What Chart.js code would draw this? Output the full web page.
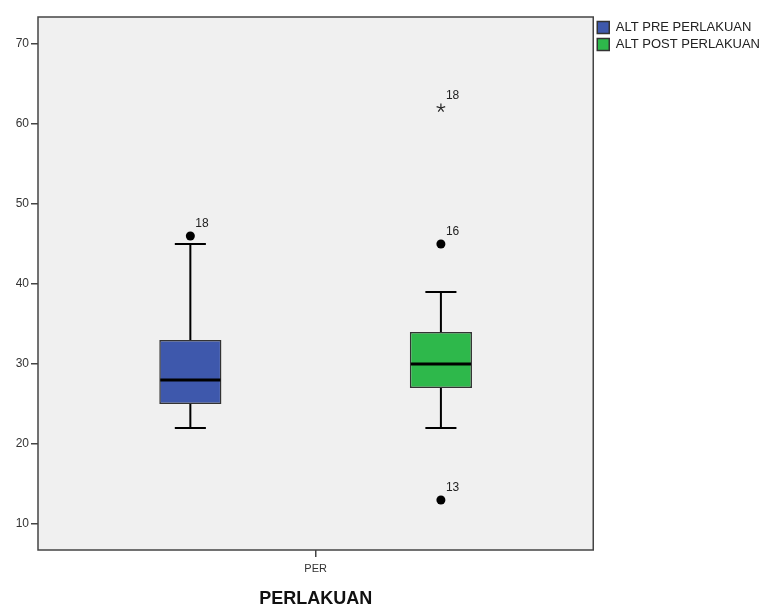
<!DOCTYPE html>
<html>
<head>
<meta charset="UTF-8">
<script src="https://cdn.jsdelivr.net/npm/chart.js@4/dist/chart.umd.min.js"></script>
<style>
  html, body { margin: 0; padding: 0; background: #fff; }
  #wrap { width: 763px; height: 607px; }
</style>
</head>
<body>
<div id="wrap"><canvas id="box"></canvas></div>
<script>
// data
var categories = ['PER'];
var seriesNames = ['ALT PRE PERLAKUAN', 'ALT POST PERLAKUAN'];
var boxMin    = [22, 22];
var boxQ1     = [25, 27];
var boxMedian = [28, 30];
var boxQ3     = [33, 34];
var boxMax    = [45, 39];
// outliers: [value, case label]
var outliersPre  = [[46, '18']];
var outliersPost = [[45, '16'], [13, '13']];
var extremesPre  = [];
var extremesPost = [[62, '18']];
var yTicks = [10, 20, 30, 40, 50, 60, 70];

var colors = ['#3e58ac', '#2eb84b'];
var fontFam = '"Liberation Sans", Arial, sans-serif';

var boxPlugin = {
  id: 'boxParts',
  beforeDraw: function(chart) {
    var a = chart.chartArea, ctx = chart.ctx;
    ctx.save();
    ctx.fillStyle = '#f0f0f0';
    ctx.fillRect(a.left, a.top, a.right - a.left, a.bottom - a.top);
    ctx.restore();
  },
  afterDatasetsDraw: function(chart) {
    var ctx = chart.ctx, y = chart.scales.y;
    var outs = [outliersPre, outliersPost];
    var exts = [extremesPre, extremesPost];
    ctx.save();
    chart.data.datasets.forEach(function(ds, i) {
      var bar = chart.getDatasetMeta(i).data[0];
      var cx = bar.x, half = bar.width / 2, cap = bar.width / 4;
      var yMin = y.getPixelForValue(boxMin[i]), yMax = y.getPixelForValue(boxMax[i]);
      var yQ1 = y.getPixelForValue(boxQ1[i]), yQ3 = y.getPixelForValue(boxQ3[i]);
      var yMed = y.getPixelForValue(boxMedian[i]);
      ctx.strokeStyle = '#000';
      ctx.lineWidth = 2;
      ctx.beginPath();
      ctx.moveTo(cx, yQ3); ctx.lineTo(cx, yMax);
      ctx.moveTo(cx - cap, yMax); ctx.lineTo(cx + cap, yMax);
      ctx.moveTo(cx, yQ1); ctx.lineTo(cx, yMin);
      ctx.moveTo(cx - cap, yMin); ctx.lineTo(cx + cap, yMin);
      ctx.stroke();
      ctx.lineWidth = 3;
      ctx.beginPath();
      ctx.moveTo(cx - half + 1, yMed); ctx.lineTo(cx + half - 1, yMed);
      ctx.stroke();

      ctx.font = '12px ' + fontFam;
      ctx.textAlign = 'left';
      ctx.textBaseline = 'alphabetic';
      outs[i].forEach(function(o) {
        var py = y.getPixelForValue(o[0]);
        ctx.fillStyle = '#000';
        ctx.beginPath();
        ctx.arc(cx, py, 4.5, 0, Math.PI * 2);
        ctx.fill();
        ctx.fillStyle = '#222';
        ctx.fillText(o[1], cx + 5, py - 9);
      });
      exts[i].forEach(function(o) {
        var py = y.getPixelForValue(o[0]);
        ctx.strokeStyle = '#222';
        ctx.lineWidth = 1.2;
        ctx.beginPath();
        for (var k = 0; k < 5; k++) {
          var ang = -Math.PI / 2 + k * 2 * Math.PI / 5;
          ctx.moveTo(cx, py);
          ctx.lineTo(cx + 4.5 * Math.cos(ang), py + 4.5 * Math.sin(ang));
        }
        ctx.stroke();
        ctx.fillStyle = '#222';
        ctx.fillText(o[1], cx + 5, py - 9);
      });
    });
    // plot frame
    var a = chart.chartArea;
    ctx.strokeStyle = '#444';
    ctx.lineWidth = 1.5;
    ctx.strokeRect(a.left, a.top, a.right - a.left, a.bottom - a.top);
    ctx.restore();
  }
};

new Chart(document.getElementById('box'), {
  type: 'bar',
  data: {
    labels: categories,
    datasets: seriesNames.map(function(name, i) {
      return {
        label: name,
        data: [[boxQ1[i], boxQ3[i]]],
        backgroundColor: colors[i],
        borderColor: '#333',
        borderWidth: 1.5,
        borderSkipped: false,
        categoryPercentage: 0.9025,
        barPercentage: 0.248
      };
    })
  },
  options: {
    responsive: true,
    maintainAspectRatio: false,
    animation: false,
    layout: { padding: { top: 17, right: -7, left: 0, bottom: 0 } },
    plugins: {
      tooltip: { enabled: false },
      legend: {
        position: 'right',
        align: 'start',
        labels: {
          boxWidth: 12, boxHeight: 12, padding: 4,
          color: '#222',
          font: { family: fontFam, size: 13 }
        }
      }
    },
    scales: {
      x: {
        grid: { display: true, offset: false, drawOnChartArea: false, drawTicks: true, tickLength: 7, color: '#444', lineWidth: 1.5 },
        border: { display: false },
        ticks: { color: '#333', font: { family: fontFam, size: 11 }, padding: 5 },
        title: {
          display: true, text: 'PERLAKUAN', color: '#111',
          font: { family: fontFam, size: 18, weight: 'bold' }, padding: { top: 4, bottom: -3 }
        },
        afterFit: function(s) { s.height = 57; }
      },
      y: {
        min: 6.75, max: 73.375,
        afterBuildTicks: function(s) { s.ticks = yTicks.map(function(v) { return { value: v }; }); },
        grid: { display: true, drawOnChartArea: false, drawTicks: true, tickLength: 7, color: '#444', lineWidth: 1.5 },
        border: { display: false },
        ticks: { color: '#333', font: { family: fontFam, size: 12 }, padding: 2 },
        afterFit: function(s) { s.width = 38; }
      }
    }
  },
  plugins: [boxPlugin]
});
</script>
</body>
</html>
